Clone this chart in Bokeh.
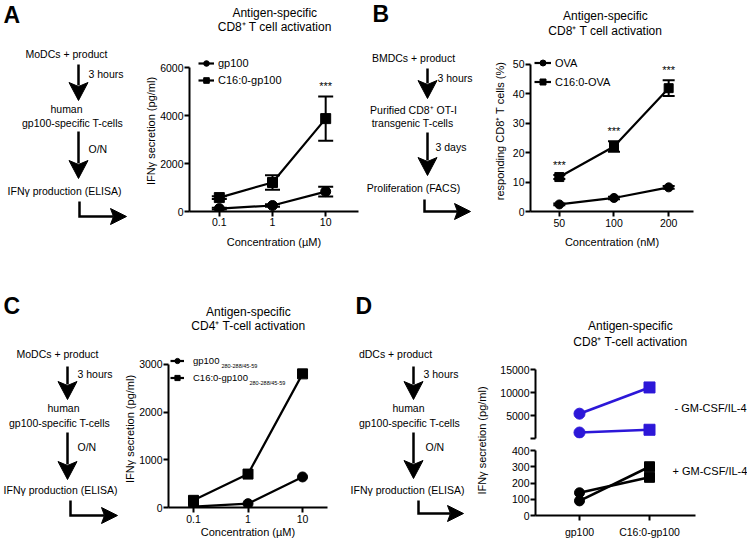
import math
from bokeh.plotting import figure
from bokeh.models import (Range1d, ColumnDataSource, Whisker, TeeHead,
                          Legend, LegendItem, Label, LabelSet, FixedTicker)
from bokeh.layouts import row, column
from bokeh.embed import file_html
from bokeh.resources import INLINE
from bokeh.core.properties import value

FONT = "Liberation Sans"
BLUE = "#2c17d8"
BLACK = "#000000"

# ---------------- data ----------------
# Panel A
a_conc = [0.1, 1, 10]
a_conc_labels = ["0.1", "1", "10"]
a_gp100 = [120, 250, 830]
a_gp100_err = [40, 50, 200]
a_c16 = [580, 1210, 3870]
a_c16_err = [60, 300, 920]
a_sig = ["", "", "***"]
a_yticks = [0, 2000, 4000, 6000]
# Panel B
b_conc = [50, 100, 200]
b_conc_labels = ["50", "100", "200"]
b_ova = [2.4, 4.6, 8.2]
b_ova_err = [0.3, 0.4, 0.5]
b_c16 = [11.7, 22.1, 41.9]
b_c16_err = [0.7, 1.8, 2.7]
b_sig = ["***", "***", "***"]
b_yticks = [0, 10, 20, 30, 40, 50]
# Panel C
c_conc = [0.1, 1, 10]
c_conc_labels = ["0.1", "1", "10"]
c_gp100 = [20, 80, 640]
c_c16 = [150, 700, 2800]
c_yticks = [0, 1000, 2000, 3000]
c_sub = "280-288/45-59"
# Panel D
d_groups = ["gp100", "C16:0-gp100"]
d_markers = ["circle", "square"]
d_minus_1 = [5400, 11100]
d_minus_2 = [1300, 1900]
d_plus_1 = [140, 235]
d_plus_2 = [90, 300]
d_up_ticks = [0, 5000, 10000, 15000]
d_lo_ticks = [0, 100, 200, 300, 400]

flow_a = ["MoDCs + product", "3 hours", "human", "gp100-specific T-cells", "O/N", "IFN\u03b3 production (ELISA)"]
flow_b = ["BMDCs + product", "3 hours", "Purified CD8\u207a OT-I", "transgenic T-cells", "3 days", "Proliferation (FACS)"]
flow_c = ["MoDCs + product", "3 hours", "human", "gp100-specific T-cells", "O/N", "IFN\u03b3 production (ELISA)"]
flow_d = ["dDCs + product", "3 hours", "human", "gp100-specific T-cells", "O/N", "IFN\u03b3 production (ELISA)"]

title_a = ["Antigen-specific", "CD8\u207a T cell activation"]
title_b = ["Antigen-specific", "CD8\u207a T cell activation"]
title_c = ["Antigen-specific", "CD4\u207a T-cell activation"]
title_d = ["Antigen-specific", "CD8\u207a T-cell activation"]
ylab_ifn = "IFN\u03b3 secretion (pg/ml)"


# ---------------- helpers ----------------
def canvas(x0, x1, y0, y1):
    p = figure(width=x1 - x0, height=y1 - y0, x_range=Range1d(x0, x1), y_range=Range1d(y1, y0),
               toolbar_location=None, output_backend="svg",
               x_axis_location=None, y_axis_location=None, min_border=0)
    p.outline_line_color = None
    p.grid.visible = False
    return p


def txt(p, x, y, s, size="10.5px", align="center", bold=False, angle=0.0):
    p.text(x=[x], y=[y], text=[s], text_font=value(FONT), text_font_size=size,
           text_align=align, text_baseline="middle", text_color=BLACK,
           text_font_style="bold" if bold else "normal", angle=angle)


def down_arrow(p, x, y0, y1, hl=18, hw=9.5):
    p.segment(x0=[x], y0=[y0], x1=[x], y1=[y1 - hl + 3], line_width=2.5, line_color=BLACK)
    p.patch(x=[x - hw, x, x + hw, x], y=[y1 - hl, y1 - hl + 4, y1 - hl, y1],
            fill_color=BLACK, line_color=BLACK, line_width=1)


def bent_arrow(p, x, y0, y1, x1, hl=16, hh=8):
    p.line(x=[x, x, x1 - hl + 3], y=[y0, y1, y1], line_width=2.5, line_color=BLACK,
           line_join="miter")
    p.patch(x=[x1 - hl, x1 - hl + 3, x1 - hl, x1], y=[y1 - hh, y1, y1 + hh, y1],
            fill_color=BLACK, line_color=BLACK, line_width=1)


def chart(x0, x1, y0, y1, fl, fr, ft, fb, x_range, y_range, x_log=False, x_axis=True):
    p = figure(width=x1 - x0, height=y1 - y0, x_range=x_range, y_range=y_range,
               x_axis_type="log" if x_log else "linear", toolbar_location=None,
               output_backend="svg",
               min_border_left=fl - x0, min_border_right=x1 - fr,
               min_border_top=ft - y0, min_border_bottom=y1 - fb,
               x_axis_location="below" if x_axis else None)
    p.outline_line_color = None
    p.grid.visible = False
    for ax in p.axis:
        ax.axis_line_width = 2
        ax.axis_line_color = BLACK
        ax.major_tick_line_width = 2
        ax.major_tick_line_color = BLACK
        ax.major_tick_out = 5
        ax.major_tick_in = 0
        ax.minor_tick_line_color = None
        ax.major_label_text_font = FONT
        ax.major_label_text_font_size = "10.5px"
        ax.major_label_text_color = BLACK
        ax.axis_label_text_font = FONT
        ax.axis_label_text_font_size = "11px"
        ax.axis_label_text_font_style = "normal"
        ax.axis_label_text_color = BLACK
        ax.major_label_standoff = 1
        ax.axis_label_standoff = 0
    return p


def whiskers(p, src, base, up, lo, size):
    w = Whisker(source=src, base=base, upper=up, lower=lo, line_width=2, line_color=BLACK,
                upper_head=TeeHead(size=size, line_width=2, line_color=BLACK),
                lower_head=TeeHead(size=size, line_width=2, line_color=BLACK))
    p.add_layout(w)


def legend(items, loc, gw, ih, sp, stand, size):
    return Legend(items=items, location=loc, glyph_width=gw, glyph_height=ih, label_height=ih,
                  spacing=sp, padding=0, margin=0, label_standoff=stand,
                  label_text_font=FONT, label_text_font_size=size, label_text_color=BLACK,
                  background_fill_alpha=0, border_line_color=None)


def stars(p, xs, ys, errs, sig, off):
    sx, sy, st = [], [], []
    for x, y, e, s in zip(xs, ys, errs, sig):
        if s:
            sx.append(x); sy.append(y + e + off); st.append(s)
    p.add_layout(LabelSet(x="x", y="y", text="t", source=ColumnDataSource(dict(x=sx, y=sy, t=st)),
                          text_align="center", text_baseline="middle",
                          text_font=value(FONT), text_font_size="11px", text_color=BLACK))


def ext_top(lo, hi, px_axis, px_extra):
    # upper range limit so that the frame extends px_extra pixels above the axis top
    return hi + (hi - lo) * px_extra / px_axis


# ================= TOP ROW (y 0..250) =================
# ---- flow A ----
fA = canvas(0, 142, 0, 250)
txt(fA, 3, 14, "A", size="23px", align="left", bold=True)
txt(fA, 66, 53, flow_a[0])
txt(fA, 88, 73, flow_a[1], align="left")
txt(fA, 66, 108, flow_a[2])
txt(fA, 72, 122, flow_a[3])
txt(fA, 88, 148, flow_a[4], align="left")
txt(fA, 64, 190, flow_a[5])
down_arrow(fA, 78, 64, 100)
down_arrow(fA, 78, 131, 178)
bent_arrow(fA, 79, 201, 216, 126)

tA = canvas(142, 362, 0, 45)
txt(tA, 253, 12, title_a[0], size="12px")
txt(tA, 253, 26, title_a[1], size="12px")

# ---- chart A ----  (axis 0..6000 spans y 67..211, frame extends to y 50)
pA = chart(142, 362, 45, 250, 188, 358, 50, 211, Range1d(0.0275, 41.4),
           Range1d(0, ext_top(0, 6000, 144, 17)), x_log=True)
pA.yaxis.bounds = (0, 6000)
pA.xaxis.ticker = FixedTicker(ticks=a_conc)
pA.xaxis.major_label_overrides = dict(zip(a_conc, a_conc_labels))
pA.yaxis.ticker = FixedTicker(ticks=a_yticks)
pA.xaxis.axis_label = "Concentration (\u00b5M)"
pA.yaxis.axis_label = ylab_ifn
pA.xaxis.axis_label_standoff = 7
srcA = ColumnDataSource(dict(
    x=a_conc, g=a_gp100, c=a_c16,
    gl=[m - e for m, e in zip(a_gp100, a_gp100_err)], gu=[m + e for m, e in zip(a_gp100, a_gp100_err)],
    cl=[m - e for m, e in zip(a_c16, a_c16_err)], cu=[m + e for m, e in zip(a_c16, a_c16_err)]))
whiskers(pA, srcA, "x", "gu", "gl", 15)
whiskers(pA, srcA, "x", "cu", "cl", 15)
la1 = pA.line("x", "g", source=srcA, line_width=2.2, line_color=BLACK)
sa1 = pA.scatter("x", "g", source=srcA, marker="circle", size=10, color=BLACK)
la2 = pA.line("x", "c", source=srcA, line_width=2.2, line_color=BLACK)
sa2 = pA.scatter("x", "c", source=srcA, marker="square", size=10, color=BLACK)
pA.add_layout(legend([LegendItem(label="gp100", renderers=[la1, sa1]),
                      LegendItem(label="C16:0-gp100", renderers=[la2, sa2])],
                     (9, 124), 16, 14, 3, 4, "11px"))
stars(pA, a_conc, a_c16, a_c16_err, a_sig, 0.07 * 6000)

# ---- flow B ----
fB = canvas(362, 490, 0, 250)
txt(fB, 372, 13, "B", size="23px", align="left", bold=True)
txt(fB, 413, 57, flow_b[0])
txt(fB, 437, 77, flow_b[1], align="left")
txt(fB, 413, 109, flow_b[2])
txt(fB, 412, 122, flow_b[3])
txt(fB, 435, 146, flow_b[4], align="left")
txt(fB, 413, 187, flow_b[5])
down_arrow(fB, 427, 68, 98)
down_arrow(fB, 427, 132, 175)
bent_arrow(fB, 424, 199, 211, 470)

tB = canvas(490, 747, 0, 45)
txt(tB, 608, 15, title_b[0], size="12px")
txt(tB, 608, 30, title_b[1], size="12px")

# ---- chart B ----  (axis 0..50 spans y 64..213, frame extends to y 50)
pB = chart(490, 747, 45, 250, 529, 693, 50, 213, Range1d(34.7, 274),
           Range1d(0, ext_top(0, 50, 149, 14)), x_log=True)
pB.yaxis.bounds = (0, 50)
pB.xaxis.ticker = FixedTicker(ticks=b_conc)
pB.xaxis.major_label_overrides = dict(zip(b_conc, b_conc_labels))
pB.yaxis.ticker = FixedTicker(ticks=b_yticks)
pB.xaxis.axis_label = "Concentration (nM)"
pB.yaxis.axis_label = "responding CD8\u207a T cells (%)"
pB.xaxis.major_label_standoff = 2
pB.xaxis.axis_label_standoff = 6
pB.yaxis.axis_label_standoff = 4
srcB = ColumnDataSource(dict(
    x=b_conc, o=b_ova, c=b_c16,
    ol=[m - e for m, e in zip(b_ova, b_ova_err)], ou=[m + e for m, e in zip(b_ova, b_ova_err)],
    cl=[m - e for m, e in zip(b_c16, b_c16_err)], cu=[m + e for m, e in zip(b_c16, b_c16_err)]))
whiskers(pB, srcB, "x", "ou", "ol", 12)
whiskers(pB, srcB, "x", "cu", "cl", 12)
lb1 = pB.line("x", "o", source=srcB, line_width=2.2, line_color=BLACK)
sb1 = pB.scatter("x", "o", source=srcB, marker="circle", size=9, color=BLACK)
lb2 = pB.line("x", "c", source=srcB, line_width=2.2, line_color=BLACK)
sb2 = pB.scatter("x", "c", source=srcB, marker="square", size=9, color=BLACK)
pB.add_layout(legend([LegendItem(label="OVA", renderers=[lb1, sb1]),
                      LegendItem(label="C16:0-OVA", renderers=[lb2, sb2])],
                     (4, 122), 17, 15, 4, 4, "11px"))
stars(pB, b_conc, b_c16, b_c16_err, b_sig, 0.07 * 50)

# ================= BOTTOM ROW (y 250..540) =================
# ---- flow C ----
fC = canvas(0, 121, 250, 540)
txt(fC, 3, 305, "C", size="23px", align="left", bold=True)
txt(fC, 57, 353, flow_c[0])
txt(fC, 77, 373, flow_c[1], align="left")
txt(fC, 63, 407, flow_c[2])
txt(fC, 59, 422, flow_c[3])
txt(fC, 77, 446, flow_c[4], align="left")
txt(fC, 60, 489, flow_c[5])
down_arrow(fC, 67, 366, 399)
down_arrow(fC, 67, 432, 479)
bent_arrow(fC, 70, 500, 515, 117)

tC = canvas(121, 340, 250, 350)
txt(tC, 231, 311, title_c[0], size="12px")
txt(tC, 231, 325, title_c[1], size="12px")

# ---- chart C ----  (axis 0..3000 spans y 364..509, frame extends to y 350)
C_XLO, C_XHI = 0.0348, 28.7
pC = chart(121, 340, 350, 540, 168, 327, 350, 509, Range1d(C_XLO, C_XHI),
           Range1d(0, ext_top(0, 3000, 145, 14)), x_log=True)
pC.yaxis.bounds = (0, 3000)
pC.xaxis.ticker = FixedTicker(ticks=c_conc)
pC.xaxis.major_label_overrides = dict(zip(c_conc, c_conc_labels))
pC.yaxis.ticker = FixedTicker(ticks=c_yticks)
pC.xaxis.axis_label = "Concentration (\u00b5M)"
pC.yaxis.axis_label = ylab_ifn
pC.xaxis.major_label_standoff = 2
srcC = ColumnDataSource(dict(x=c_conc, g=c_gp100, c=c_c16))
lc1 = pC.line("x", "g", source=srcC, line_width=2.2, line_color=BLACK)
sc1 = pC.scatter("x", "g", source=srcC, marker="circle", size=10, color=BLACK)
lc2 = pC.line("x", "c", source=srcC, line_width=2.2, line_color=BLACK)
sc2 = pC.scatter("x", "c", source=srcC, marker="square", size=10, color=BLACK)
pC.add_layout(legend([LegendItem(label="gp100", renderers=[lc1, sc1]),
                      LegendItem(label="C16:0-gp100", renderers=[lc2, sc2])],
                     (2, 123), 14, 13, 4, 9, "9.5px"))
pC.add_layout(Label(x=C_XLO, y=3000, x_offset=53, y_offset=-2, text=c_sub, text_font=FONT,
                    text_font_size="5.5px", text_baseline="middle", text_color=BLACK))
pC.add_layout(Label(x=C_XLO, y=3000, x_offset=81, y_offset=-19, text=c_sub, text_font=FONT,
                    text_font_size="5.5px", text_baseline="middle", text_color=BLACK))

# ---- flow D ----
fD = canvas(340, 490, 250, 540)
txt(fD, 355, 305, "D", size="23px", align="left", bold=True)
txt(fD, 395, 353, flow_d[0])
txt(fD, 423, 373, flow_d[1], align="left")
txt(fD, 408, 407, flow_d[2])
txt(fD, 409, 422, flow_d[3])
txt(fD, 425, 446, flow_d[4], align="left")
txt(fD, 407, 489, flow_d[5])
down_arrow(fD, 413, 366, 399)
down_arrow(fD, 413, 432, 478)
bent_arrow(fD, 418, 500, 513, 463)
txt(fD, 481, 440, ylab_ifn, size="11px", angle=math.pi / 2)

tD = canvas(490, 747, 250, 355)
txt(tD, 605, 325, title_d[0], size="12px")
txt(tD, 605, 341, title_d[1], size="12px")

# ---- chart D (broken y axis: two stacked panels sharing the group axis) ----
d_x = list(range(len(d_groups)))          # group positions 0, 1
D_UNIT = 70.0                              # pixels between the two groups
D_LO = d_x[0] - (579 - 535) / D_UNIT       # frame left edge (axis at x=535)
D_HI = d_x[0] + (747 - 579) / D_UNIT       # frame right edge
D_AX_HI = d_x[0] + (695 - 579) / D_UNIT    # end of drawn x axis
xrD = Range1d(D_LO, D_HI)
pDu = chart(490, 747, 355, 444, 535, 747, 369, 438, xrD, Range1d(0, 15000), x_axis=False)
pDu.yaxis.ticker = FixedTicker(ticks=d_up_ticks)
pDu.yaxis.major_label_overrides = {0: ""}
pDl = chart(490, 747, 444, 540, 535, 747, 450, 517, xrD, Range1d(0, 400))
pDl.yaxis.ticker = FixedTicker(ticks=d_lo_ticks)
pDl.xaxis.ticker = FixedTicker(ticks=d_x)
pDl.xaxis.major_label_overrides = dict(zip(d_x, d_groups))
pDl.xaxis.bounds = (D_LO, D_AX_HI)
pDl.xaxis.major_label_standoff = 5

for vals in (d_minus_1, d_minus_2):
    s = ColumnDataSource(dict(g=d_x, v=vals, m=d_markers))
    pDu.line("g", "v", source=s, line_width=2.6, line_color=BLUE)
    pDu.scatter("g", "v", source=s, marker="m", size=11, color=BLUE)
for vals in (d_plus_1, d_plus_2):
    s = ColumnDataSource(dict(g=d_x, v=vals, m=d_markers))
    pDl.line("g", "v", source=s, line_width=2.6, line_color=BLACK)
    pDl.scatter("g", "v", source=s, marker="m", size=10, color=BLACK)

pDu.add_layout(Label(x=d_x[1], y=15000, x_offset=25, y_offset=-38, text="- GM-CSF/IL-4",
                     text_font=FONT, text_font_size="11px", text_baseline="middle", text_color=BLACK))
pDl.add_layout(Label(x=d_x[1], y=400, x_offset=23, y_offset=-20, text="+ GM-CSF/IL-4",
                     text_font=FONT, text_font_size="11px", text_baseline="middle", text_color=BLACK))

# ---------------- layout ----------------
top = row(fA, column(tA, pA), fB, column(tB, pB))
bottom = row(fC, column(tC, pC), fD, column(tD, pDu, pDl))
layout = column(top, bottom)

open("out.html", "w").write(file_html(layout, INLINE))
